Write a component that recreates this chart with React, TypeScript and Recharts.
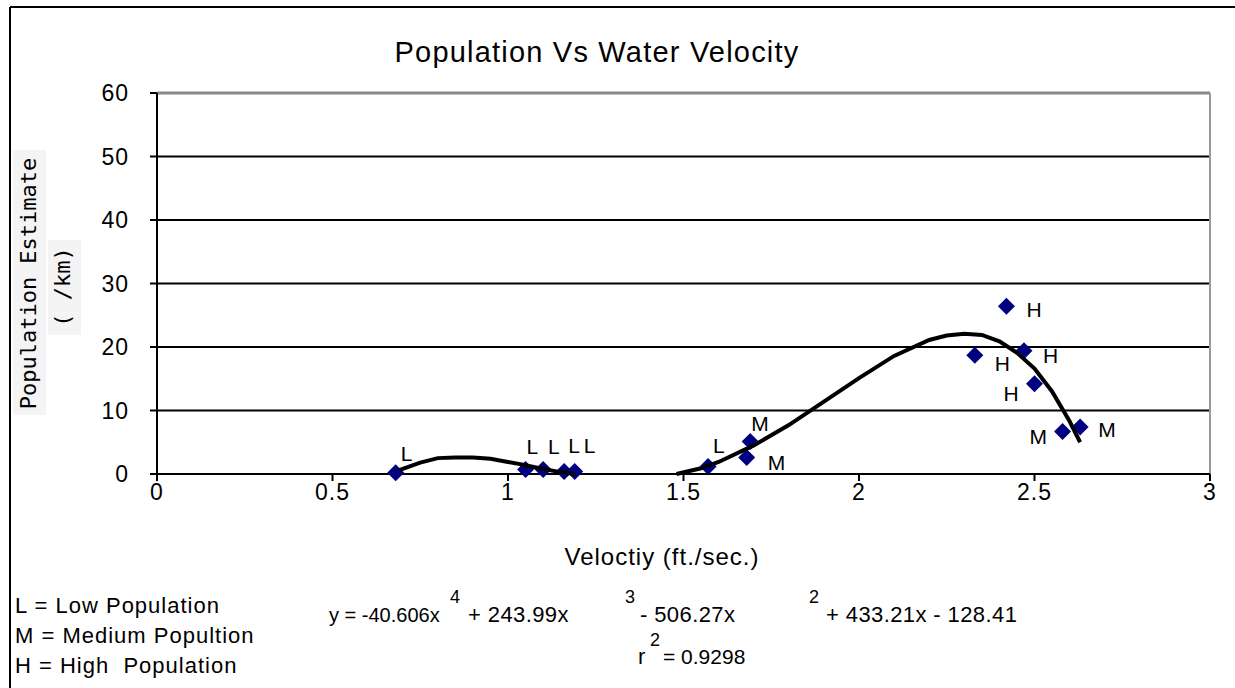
import React from "react";
import {
  ComposedChart,
  Scatter,
  XAxis,
  YAxis,
  CartesianGrid,
  ReferenceLine,
} from "recharts";

const velocity = [0.68, 1.05, 1.1, 1.16, 1.19, 1.57, 1.68, 1.69, 2.33, 2.42, 2.47, 2.5, 2.58, 2.63];
const population = [0.2, 0.7, 0.7, 0.4, 0.4, 1.2, 2.6, 5.1, 18.7, 26.4, 19.4, 14.2, 6.7, 7.4];
const levels = ["L", "L", "L", "L", "L", "L", "M", "M", "H", "H", "H", "H", "M", "M"];

// trend line as drawn (two visible pieces, the rest is clipped below 0)
const trendLowX = [0.69, 0.75, 0.8, 0.85, 0.9, 0.95, 1.0, 1.05, 1.1, 1.15, 1.19];
const trendLowY = [0.6, 1.8, 2.5, 2.6, 2.6, 2.4, 1.9, 1.4, 0.8, 0.3, 0];
const trendHighX = [1.48, 1.55, 1.6, 1.7, 1.8, 1.9, 2.0, 2.1, 2.2, 2.25, 2.3, 2.35, 2.4, 2.45, 2.5, 2.55, 2.6, 2.63];
const trendHighY = [0, 0.9, 1.9, 4.5, 7.7, 11.4, 15.1, 18.6, 21.1, 21.8, 22.1, 21.9, 20.9, 19.1, 16.6, 13.0, 8.3, 5.0];

const xTicks = [0, 0.5, 1, 1.5, 2, 2.5, 3];
const yTicks = [0, 10, 20, 30, 40, 50, 60];

// label placement next to each marker [dx, dy]
const labelOffsets = [
  [5, -12], [1, -16], [5, -16], [4, -18], [9, -18], [5, -13], [21, 13],
  [1, -11], [20, 16], [20, 11], [19, 12], [-31, 17], [-33, 13], [18, 10],
];

const points = velocity.map((x, i) => ({ x, y: population[i], level: levels[i], i }));
const trendLow = trendLowX.map((x, i) => ({ x, y: trendLowY[i] }));
const trendHigh = trendHighX.map((x, i) => ({ x, y: trendHighY[i] }));

const FONT = "'Liberation Sans', Arial, sans-serif";

const Diamond = (props: any) => {
  const { cx, cy, payload } = props;
  if (cx == null || cy == null) return <g />;
  const r = 8.5;
  const off = labelOffsets[payload.i] || [5, -12];
  return (
    <g>
      <polygon
        points={`${cx},${cy - r} ${cx + r},${cy} ${cx},${cy + r} ${cx - r},${cy}`}
        fill="#000080"
      />
      <text x={cx + off[0]} y={cy + off[1]} fontSize={21} fontFamily={FONT} fill="#000">
        {payload.level}
      </text>
    </g>
  );
};

const Nothing = () => <g />;

export default function App() {
  const tick = { fill: "#000", fontSize: 23, fontFamily: FONT, letterSpacing: 1 };
  return (
    <div style={{ position: "absolute", left: 0, top: 0, width: 1235, height: 688, background: "#fff" }}>
      <ComposedChart
        width={1235}
        height={688}
        margin={{ top: 93, right: 25, left: 77, bottom: 174 }}
      >
        <CartesianGrid
          horizontal
          vertical={false}
          horizontalValues={[10, 20, 30, 40, 50]}
          stroke="#000"
          strokeWidth={2}
        />
        <XAxis
          type="number"
          dataKey="x"
          domain={[0, 3]}
          ticks={xTicks}
          interval={0}
          height={40}
          tick={tick}
          tickSize={7}
          tickMargin={3}
          axisLine={{ stroke: "#000", strokeWidth: 2 }}
          tickLine={{ stroke: "#000", strokeWidth: 2 }}
        />
        <YAxis
          type="number"
          dataKey="y"
          domain={[0, 60]}
          ticks={yTicks}
          interval={0}
          width={80}
          tick={tick}
          tickSize={7}
          tickMargin={21}
          axisLine={{ stroke: "#000", strokeWidth: 2 }}
          tickLine={{ stroke: "#000", strokeWidth: 2 }}
        />
        <ReferenceLine y={60} stroke="#888" strokeWidth={3} />
        <ReferenceLine x={3} stroke="#999" strokeWidth={2} />
        <Scatter data={points} shape={Diamond} isAnimationActive={false} />
        <Scatter
          data={trendLow}
          shape={Nothing}
          line={{ stroke: "#000", strokeWidth: 4 }}
          lineType="joint"
          isAnimationActive={false}
        />
        <Scatter
          data={trendHigh}
          shape={Nothing}
          line={{ stroke: "#000", strokeWidth: 4 }}
          lineType="joint"
          isAnimationActive={false}
        />
      </ComposedChart>

      <svg
        width={1235}
        height={688}
        style={{ position: "absolute", left: 0, top: 0, pointerEvents: "none" }}
        fontFamily={FONT}
      >
        {/* outer frame */}
        <line x1={10} y1={7} x2={1235} y2={7} stroke="#000" strokeWidth={2} />
        <line x1={10} y1={7} x2={10} y2={688} stroke="#000" strokeWidth={2} />

        <text x={597} y={62} textAnchor="middle" fontSize={29} letterSpacing={1.2}>
          Population Vs Water Velocity
        </text>

        <text x={662} y={565} textAnchor="middle" fontSize={24} letterSpacing={1}>
          Veloctiy (ft./sec.)
        </text>

        {/* y axis title */}
        <rect x={13} y={150} width={33} height={265} fill="#f4f4f4" />
        <rect x={48} y={240} width={33} height={95} fill="#f4f4f4" />
        <text
          transform="translate(36,283.5) rotate(-90)"
          textAnchor="middle"
          fontSize={22}
          fontFamily="'DejaVu Sans Mono', monospace"
        >
          Population Estimate
        </text>
        <text
          transform="translate(70,287) rotate(-90)"
          textAnchor="middle"
          fontSize={22}
          fontFamily="'DejaVu Sans Mono', monospace"
          style={{ whiteSpace: "pre" }}
        >
          ( /km)
        </text>

        {/* key */}
        <g fontSize={22} letterSpacing={1}>
          <text x={15} y={613}>L = Low Population</text>
          <text x={15} y={643}>M = Medium Popultion</text>
          <text x={15} y={673} style={{ whiteSpace: "pre" }}>H = High  Population</text>
        </g>

        {/* trend equation */}
        <g fontSize={22} letterSpacing={0.4}>
          <text x={329} y={622} fontSize={20} letterSpacing={0}>y = -40.606x</text>
          <text x={450} y={603} fontSize={18}>4</text>
          <text x={468} y={622}>+ 243.99x</text>
          <text x={625} y={603} fontSize={18}>3</text>
          <text x={640} y={622}>- 506.27x</text>
          <text x={809} y={603} fontSize={18}>2</text>
          <text x={826} y={622}>+ 433.21x - 128.41</text>
          <text x={638} y={664}>r</text>
          <text x={650} y={646} fontSize={18}>2</text>
          <text x={663} y={664} fontSize={21} letterSpacing={0}>= 0.9298</text>
        </g>
      </svg>
    </div>
  );
}
